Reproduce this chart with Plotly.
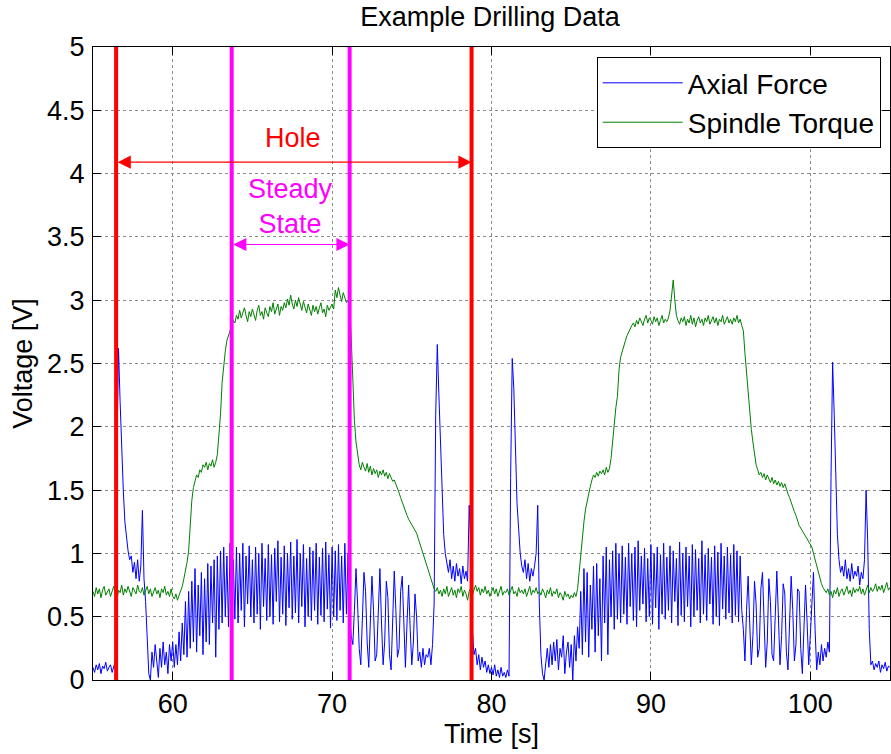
import plotly.graph_objects as go

# ---- data (sampled every 0.1 s starting at 55.0 s) ----
t_start = 55.0
t_step = 0.1

axial_force = [
    0.10, 0.06, 0.12, 0.08, 0.13, 0.05, 0.11, 0.09, 0.14, 0.07,   # 55
    0.10, 0.12, 0.06, 0.11, 0.15, 1.80, 2.62, 2.20, 1.75, 1.50,   # 56
    1.25, 1.10, 1.02, 0.95, 0.98, 0.85, 0.93, 0.80, 0.95, 0.78,   # 57
    0.90, 1.34, 0.80, 0.62, 0.30, 0.05, 0.00, 0.22, 0.10, 0.28,   # 58
    0.15, 0.02, 0.25, 0.10, 0.30, 0.12, 0.22, 0.05, 0.28, 0.15,   # 59
    0.30, 0.10, 0.28, 0.12, 0.38, 0.15, 0.45, 0.20, 0.62, 0.18,   # 60
    0.70, 0.25, 0.78, 0.30, 0.88, 0.22, 0.75, 0.35, 0.85, 0.20,   # 61
    0.80, 0.30, 0.92, 0.28, 0.90, 0.45, 0.95, 0.18, 0.98, 0.40,   # 62
    1.02, 0.45, 1.05, 0.50, 0.98, 0.42, 1.08, 0.55, 0.95, 0.48,   # 63
    1.05, 0.45, 1.00, 0.55, 1.08, 0.42, 0.98, 0.60, 1.06, 0.50,   # 64
    0.95, 0.45, 1.05, 0.52, 1.00, 0.40, 1.08, 0.58, 0.96, 0.47,   # 65
    1.07, 0.50, 0.99, 0.44, 1.04, 0.62, 1.10, 0.46, 0.97, 0.52,   # 66
    1.06, 0.43, 1.00, 0.57, 1.09, 0.48, 0.98, 0.53, 1.11, 0.45,   # 67
    1.00, 0.58, 1.07, 0.42, 0.96, 0.50, 1.05, 0.47, 1.02, 0.55,   # 68
    1.08, 0.44, 0.97, 0.51, 1.04, 0.46, 1.09, 0.56, 0.99, 0.41,   # 69
    1.05, 0.50, 1.02, 0.47, 1.07, 0.55, 0.98, 0.45, 1.08, 0.52,   # 70
    1.00, 0.48, 0.35, 0.28, 0.55, 0.88, 0.60, 0.25, 0.12, 0.45,   # 71
    0.85, 0.70, 0.30, 0.10, 0.40, 0.82, 0.55, 0.15, 0.20, 0.60,   # 72
    0.88, 0.45, 0.12, 0.30, 0.78, 0.65, 0.20, 0.08, 0.50, 0.86,   # 73
    0.55, 0.18, 0.25, 0.70, 0.82, 0.35, 0.10, 0.45, 0.75, 0.40,   # 74
    0.12, 0.30, 0.68, 0.50, 0.15, 0.22, 0.10, 0.25, 0.12, 0.20,   # 75
    0.18, 0.25, 0.12, 0.28, 0.60, 2.10, 2.65, 2.25, 1.90, 1.40,   # 76
    1.15, 1.00, 0.92, 0.85, 0.95, 0.80, 0.90, 0.78, 0.92, 0.82,   # 77
    0.88, 0.76, 0.90, 0.80, 0.86, 0.78, 1.38, 1.10, 0.40, 0.20,   # 78
    0.25, 0.12, 0.20, 0.08, 0.18, 0.10, 0.15, 0.06, 0.12, 0.05,   # 79
    0.10, 0.04, 0.12, 0.03, 0.08, 0.02, 0.10, 0.03, 0.06, 0.02,   # 80
    0.08, 0.03, 1.60, 2.54, 2.30, 1.90, 1.40, 1.20, 1.00, 0.90,   # 81
    0.85, 0.95, 0.80, 0.92, 0.78, 0.88, 0.82, 0.90, 1.00, 1.38,   # 82
    0.60, 0.20, 0.05, 0.00, 0.15, 0.25, 0.10, 0.28, 0.12, 0.30,   # 83
    0.15, 0.32, 0.08, 0.25, 0.18, 0.35, 0.05, 0.22, 0.30, 0.10,   # 84
    0.28, 0.00, 0.35, 0.15, 0.42, 0.25, 0.70, 0.20, 0.88, 0.30,   # 85
    0.85, 0.18, 0.75, 0.40, 0.90, 0.22, 0.92, 0.35, 0.80, 0.15,   # 86
    0.98, 0.45, 1.05, 0.20, 0.95, 0.50, 1.02, 0.40, 1.08, 0.48,   # 87
    1.00, 0.45, 1.06, 0.52, 0.97, 0.44, 1.08, 0.58, 1.00, 0.47,   # 88
    1.05, 0.42, 1.10, 0.55, 0.98, 0.60, 1.04, 0.46, 0.96, 0.50,   # 89
    1.07, 0.44, 1.00, 0.57, 1.05, 0.40, 0.99, 0.52, 1.08, 0.48,   # 90
    0.97, 0.55, 1.06, 0.45, 1.02, 0.62, 0.96, 0.43, 1.09, 0.51,   # 91
    1.00, 0.46, 1.05, 0.58, 0.98, 0.42, 1.07, 0.50, 1.03, 0.55,   # 92
    0.96, 0.45, 1.10, 0.52, 0.99, 0.47, 1.04, 0.60, 0.97, 0.44,   # 93
    1.06, 0.50, 1.01, 0.43, 1.08, 0.56, 0.98, 0.48, 1.05, 0.53,   # 94
    0.99, 0.45, 1.07, 0.51, 1.02, 0.46, 0.98, 0.55, 0.40, 0.15,   # 95
    0.55, 0.82, 0.45, 0.12, 0.35, 0.78, 0.60, 0.18, 0.25, 0.72,   # 96
    0.85, 0.40, 0.10, 0.30, 0.80, 0.62, 0.20, 0.15, 0.55, 0.86,   # 97
    0.50, 0.12, 0.35, 0.76, 0.68, 0.22, 0.08, 0.45, 0.82, 0.55,   # 98
    0.15, 0.28, 0.72, 0.70, 0.25, 0.05, 0.40, 0.75, 0.45, 0.12,   # 99
    0.35, 0.60, 0.85, 0.40, 0.08, 0.22, 0.12, 0.28, 0.15, 0.25,   # 100
    0.18, 0.30, 0.22, 1.60, 2.51, 2.10, 1.55, 1.15, 0.95, 0.85,   # 101
    0.90, 0.82, 0.95, 0.80, 0.88, 0.78, 0.92, 0.80, 0.86, 0.82,   # 102
    0.90, 0.75, 0.85, 0.80, 0.95, 1.50, 1.10, 0.40, 0.12, 0.15,   # 103
    0.08, 0.13, 0.10, 0.15, 0.06, 0.12, 0.09, 0.14, 0.07, 0.11,   # 104
    0.10,                                                         # 105
]

spindle_torque = [
    0.70, 0.66, 0.73, 0.68, 0.72, 0.65, 0.71, 0.74, 0.67, 0.70,   # 55
    0.72, 0.66, 0.70, 0.74, 0.68, 0.63, 0.71, 0.69, 0.75, 0.67,   # 56
    0.72, 0.69, 0.74, 0.70, 0.66, 0.73, 0.71, 0.68, 0.75, 0.70,   # 57
    0.69, 0.73, 0.67, 0.71, 0.74, 0.68, 0.72, 0.66, 0.70, 0.73,   # 58
    0.68, 0.71, 0.65, 0.72, 0.69, 0.74, 0.67, 0.70, 0.66, 0.72,   # 59
    0.66, 0.64, 0.68, 0.63, 0.67, 0.70, 0.74, 0.80, 0.86, 0.93,   # 60
    1.02, 1.25, 1.42, 1.52, 1.58, 1.62, 1.60, 1.66, 1.64, 1.70,   # 61
    1.68, 1.72, 1.66, 1.71, 1.69, 1.74, 1.68, 1.72, 1.78, 1.95,   # 62
    2.10, 2.35, 2.50, 2.60, 2.68, 2.72, 2.76, 2.80, 2.84, 2.82,   # 63
    2.88, 2.85, 2.92, 2.86, 2.90, 2.94, 2.88, 2.83, 2.91, 2.87,   # 64
    2.93, 2.89, 2.84, 2.92, 2.96, 2.88, 2.91, 2.85, 2.94, 2.90,   # 65
    2.87, 2.95, 2.91, 2.98, 2.89, 2.93, 2.97, 2.88, 2.95, 2.92,   # 66
    2.98, 2.94, 3.01, 2.96, 3.04, 2.97, 2.93, 3.00, 2.95, 3.02,   # 67
    2.96, 2.92, 2.99, 2.94, 2.90, 2.97, 2.93, 2.88, 2.96, 2.91,   # 68
    2.95, 2.89, 2.94, 2.98, 2.90, 2.93, 2.87, 2.96, 2.92, 2.95,   # 69
    2.97, 2.93, 3.08, 3.02, 3.10, 3.04, 2.99, 3.06, 3.01, 2.98,   # 70
    3.00, 2.95, 2.70, 2.35, 2.05, 1.88, 1.78, 1.70, 1.66, 1.72,   # 71
    1.68, 1.65, 1.71, 1.64, 1.69, 1.62, 1.67, 1.63, 1.66, 1.60,   # 72
    1.65, 1.62, 1.66, 1.61, 1.64, 1.59, 1.63, 1.60, 1.57, 1.58,   # 73
    1.55, 1.52, 1.48, 1.44, 1.40, 1.37, 1.33, 1.30, 1.27, 1.25,   # 74
    1.22, 1.20, 1.18, 1.16, 1.12, 1.08, 1.04, 1.00, 0.96, 0.92,   # 75
    0.87, 0.83, 0.79, 0.75, 0.72, 0.70, 0.73, 0.68, 0.71, 0.66,   # 76
    0.72, 0.68, 0.74, 0.66, 0.70, 0.73, 0.67, 0.71, 0.65, 0.72,   # 77
    0.69, 0.74, 0.66, 0.71, 0.68, 0.63, 0.70, 0.73, 0.67, 0.71,   # 78
    0.75, 0.70, 0.73, 0.67, 0.72, 0.69, 0.74, 0.68, 0.71, 0.66,   # 79
    0.70, 0.73, 0.68, 0.72, 0.66, 0.71, 0.74, 0.67, 0.70, 0.69,   # 80
    0.72, 0.67, 0.71, 0.74, 0.68, 0.70, 0.66, 0.73, 0.69, 0.71,   # 81
    0.68, 0.72, 0.66, 0.70, 0.74, 0.67, 0.71, 0.69, 0.73, 0.68,   # 82
    0.70, 0.67, 0.72, 0.69, 0.65, 0.71, 0.68, 0.73, 0.66, 0.70,   # 83
    0.68, 0.72, 0.65, 0.69, 0.67, 0.63, 0.70, 0.66, 0.68, 0.64,   # 84
    0.67, 0.65, 0.69, 0.66, 0.72, 0.85, 1.00, 1.12, 1.25, 1.35,   # 85
    1.42, 1.48, 1.53, 1.58, 1.62, 1.60, 1.64, 1.61, 1.65, 1.63,   # 86
    1.66, 1.62, 1.68, 1.64, 1.67, 1.75, 1.90, 2.05, 2.15, 2.24,   # 87
    2.45, 2.55, 2.60, 2.64, 2.68, 2.72, 2.75, 2.78, 2.80, 2.82,   # 88
    2.79, 2.84, 2.81, 2.86, 2.83, 2.80, 2.85, 2.88, 2.82, 2.86,   # 89
    2.84, 2.81, 2.87, 2.83, 2.86, 2.80, 2.84, 2.88, 2.82, 2.85,   # 90
    2.83, 2.86, 2.92, 3.02, 3.16, 3.00, 2.88, 2.84, 2.81, 2.86,   # 91
    2.83, 2.87, 2.80, 2.85, 2.82, 2.88, 2.81, 2.86, 2.79, 2.84,   # 92
    2.87, 2.82, 2.85, 2.80, 2.86, 2.83, 2.88, 2.81, 2.84, 2.87,   # 93
    2.82, 2.86, 2.80, 2.85, 2.83, 2.88, 2.81, 2.84, 2.87, 2.82,   # 94
    2.85, 2.81, 2.86, 2.83, 2.88, 2.82, 2.85, 2.80, 2.76, 2.58,   # 95
    2.42, 2.28, 2.12, 1.98, 1.88, 1.78, 1.70, 1.66, 1.62, 1.64,   # 96
    1.60, 1.63, 1.58, 1.62, 1.59, 1.56, 1.60, 1.55, 1.58, 1.54,   # 97
    1.57, 1.53, 1.56, 1.52, 1.55, 1.50, 1.47, 1.44, 1.40, 1.37,   # 98
    1.33, 1.30, 1.26, 1.22, 1.20, 1.18, 1.16, 1.13, 1.11, 1.10,   # 99
    1.08, 1.05, 1.00, 0.95, 0.90, 0.84, 0.80, 0.76, 0.73, 0.71,   # 100
    0.69, 0.72, 0.67, 0.70, 0.65, 0.71, 0.68, 0.73, 0.66, 0.70,   # 101
    0.72, 0.67, 0.70, 0.74, 0.68, 0.71, 0.66, 0.73, 0.69, 0.72,   # 102
    0.70, 0.74, 0.68, 0.72, 0.67, 0.71, 0.75, 0.69, 0.73, 0.70,   # 103
    0.72, 0.76, 0.70, 0.74, 0.71, 0.75, 0.69, 0.73, 0.77, 0.71,   # 104
    0.73,                                                         # 105
]

time_s = [round(t_start + t_step * i, 1) for i in range(len(axial_force))]

hole_bounds = [56.45, 78.75]
steady_bounds = [63.7, 71.1]
x_ticks = [60, 70, 80, 90, 100]
y_ticks = [0, 0.5, 1, 1.5, 2, 2.5, 3, 3.5, 4, 4.5, 5]
y_tick_text = ["0", "0.5", "1", "1.5", "2", "2.5", "3", "3.5", "4", "4.5", "5"]

FONT = "Liberation Sans, Arial, sans-serif"
FS = 27

fig = go.Figure()
fig.add_trace(go.Scatter(x=time_s, y=axial_force, mode="lines", name="Axial Force",
                         line=dict(color="#0000FF", width=1)))
fig.add_trace(go.Scatter(x=time_s, y=spindle_torque, mode="lines", name="Spindle Torque",
                         line=dict(color="#008000", width=1)))

for xv in hole_bounds:
    fig.add_shape(type="line", x0=xv, x1=xv, y0=0, y1=5, xref="x", yref="y",
                  line=dict(color="#FF0000", width=4), layer="above")
for xv in steady_bounds:
    fig.add_shape(type="line", x0=xv, x1=xv, y0=0, y1=5, xref="x", yref="y",
                  line=dict(color="#FF00FF", width=4), layer="above")

# double arrows
fig.add_annotation(x=hole_bounds[1], y=4.09, ax=hole_bounds[0], ay=4.09,
                   xref="x", yref="y", axref="x", ayref="y", text="",
                   showarrow=True, arrowhead=2, arrowside="end+start",
                   arrowsize=2.2, arrowwidth=1.2, arrowcolor="#FF0000")
fig.add_annotation(x=steady_bounds[1], y=3.44, ax=steady_bounds[0], ay=3.44,
                   xref="x", yref="y", axref="x", ayref="y", text="",
                   showarrow=True, arrowhead=2, arrowside="end+start",
                   arrowsize=2.2, arrowwidth=1.2, arrowcolor="#FF00FF")
fig.add_annotation(x=67.55, y=4.28, xref="x", yref="y", text="Hole", showarrow=False,
                   font=dict(family=FONT, size=FS, color="#FF0000"))
fig.add_annotation(x=67.4, y=3.74, xref="x", yref="y", text="Steady<br>State", showarrow=False,
                   font=dict(family=FONT, size=FS, color="#FF00FF"))

axis_common = dict(showline=True, linecolor="black", linewidth=1, mirror="ticks",
                   ticks="inside", ticklen=8, tickcolor="black", automargin=False,
                   showgrid=True, gridcolor="#8c8c8c", griddash="dot", gridwidth=1,
                   zeroline=False, tickfont=dict(family=FONT, size=FS, color="black"))

fig.update_xaxes(range=[55, 105], tickvals=x_ticks, ticklabelstandoff=0,
                 title=dict(text="Time [s]", font=dict(family=FONT, size=FS, color="black"), standoff=4),
                 **axis_common)
fig.update_yaxes(range=[0, 5], tickvals=y_ticks, ticktext=y_tick_text, ticklabelstandoff=2,
                 title=dict(text="Voltage [V]", font=dict(family=FONT, size=FS, color="black"), standoff=6),
                 **axis_common)

fig.update_layout(
    width=891, height=754, autosize=False,
    margin=dict(l=93, r=1, t=47, b=74, autoexpand=False),
    paper_bgcolor="white", plot_bgcolor="white",
    title=dict(text="Example Drilling Data", x=0.55, xanchor="center", xref="container",
               y=1 - 17 / 754, yanchor="middle", yref="container",
               font=dict(family=FONT, size=FS, color="black")),
    legend=dict(x=0.632, y=0.984, xanchor="left", yanchor="top", itemwidth=80,
                bgcolor="white", bordercolor="black", borderwidth=1,
                font=dict(family=FONT, size=28, color="black")),
    showlegend=True,
)

fig.write_html("out.html", config={"responsive": False, "displayModeBar": False},
               post_script="document.body.style.margin='0';document.body.style.overflow='hidden';")
